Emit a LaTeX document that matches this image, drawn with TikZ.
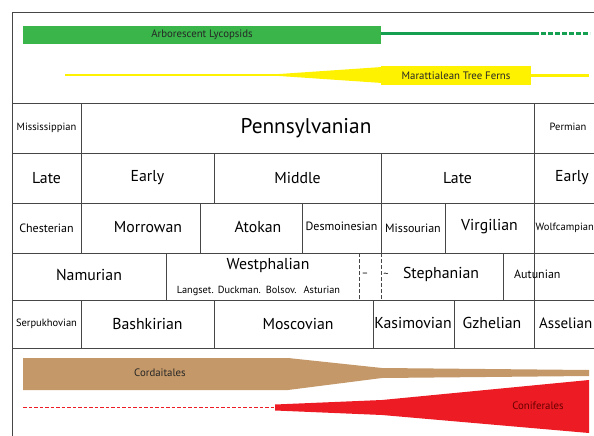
\documentclass[tikz,border=0pt]{standalone}
\usepackage{fontspec}
\setmainfont{PT Sans}
\definecolor{lgreen}{RGB}{57,181,74}
\definecolor{dgreen}{RGB}{20,160,80}
\definecolor{fyellow}{RGB}{255,242,0}
\definecolor{fbrown}{RGB}{196,152,104}
\definecolor{conired}{RGB}{237,28,36}
\definecolor{gline}{RGB}{70,70,70}
\begin{document}
\begin{tikzpicture}[x=1pt,y=-1pt,
  grid/.style={draw=gline,line width=0.8pt},
  big/.style={font=\fontsize{21.3}{23}\selectfont,inner sep=0pt},
  med/.style={font=\fontsize{15.8}{18}\selectfont,inner sep=0pt},
  sml/.style={font=\fontsize{12}{14}\selectfont,inner sep=0pt},
  ssml/.style={font=\fontsize{10.5}{12}\selectfont,inner sep=0pt},
  tiny/.style={font=\fontsize{10.3}{12}\selectfont,inner sep=0pt},
  barlab/.style={font=\fontsize{10.8}{12}\selectfont,text=black!85,inner sep=0pt}]
\useasboundingbox (0,0) rectangle (594,436);
\clip (0,0) rectangle (594,436);
\fill[white] (0,0) rectangle (594,436);
% frame
\draw[grid] (594,12) -- (12,12) -- (12,436);
\foreach \y in {103,153,203,253,300,348} \draw[grid] (12,\y) -- (594,\y);
\draw[grid] (81,103) -- (81,253);
\draw[grid] (81,300) -- (81,348);
\draw[grid] (534,103) -- (534,348);
\draw[grid] (214,153) -- (214,203);
\draw[grid] (381,153) -- (381,253);
\draw[grid] (200,203) -- (200,253);
\draw[grid] (302,203) -- (302,253);
\draw[grid] (445,203) -- (445,253);
\draw[grid] (166,253) -- (166,300);
\draw[grid] (503,253) -- (503,300);
\draw[grid,dash pattern=on 4pt off 2pt] (359,253) -- (359,300);
\draw[grid,dash pattern=on 4pt off 2pt] (381,253) -- (381,300);
\draw[grid] (214,300) -- (214,348);
\draw[grid] (373,300) -- (373,348);
\draw[grid] (454,300) -- (454,348);
% row 1
\node[ssml] (miss) at (46.5,128) {Mississippian};
\node[big] (penn) at (306,128) {Pennsylvanian};
\node[ssml] (perm) at (568,127) {Permian};
% row 2
\node[med] (late1) at (46.5,178) {Late};
\node[med] (early1) at (147.5,178) {Early};
\node[med] (middle) at (297.5,178) {Middle};
\node[med] (late2) at (457.5,178) {Late};
\node[med,anchor=west] (early2) at (555,178) {Early};
% row 3
\node[sml] (chest) at (46.5,228) {Chesterian};
\node[med] (morr) at (148,227) {Morrowan};
\node[med] (atok) at (258,227) {Atokan};
\node[sml] (desm) at (341.5,226) {Desmoinesian};
\node[sml] (miss2) at (413,228) {Missourian};
\node[med] (virg) at (489.5,227) {Virgilian};
\node[ssml,anchor=west] (wolf) at (535.5,228) {Wolfcampian};
% row 4
\node[med] (namu) at (89,275) {Namurian};
\node[med] (west) at (268,265) {Westphalian};
\node[tiny] (lang) at (258.5,291) {Langset.\hspace{4pt}Duckman.\hspace{5pt}Bolsov.\hspace{7pt}Asturian};
\node[tiny] (dash) at (365,275) {–};
\node[tiny] (tilde) at (386,275) {\char`\~};
\node[med] (steph) at (441,274) {Stephanian};
\node[sml,anchor=west] (autu) at (514,274) {Autunian};
% row 5
\node[ssml] (serp) at (46.5,324) {Serpukhovian};
\node[med] (bash) at (147.5,324) {Bashkirian};
\node[med] (mosc) at (298,324) {Moscovian};
\node[med] (kasi) at (413,323) {Kasimovian};
\node[med] (gzhe) at (492,323) {Gzhelian};
\node[med,anchor=west,font=\fontsize{15}{18}\selectfont] (asse) at (539,323) {Asselian};
% Lycopsids
\node[fill=lgreen,minimum width=358pt,minimum height=18pt,inner sep=0pt,barlab] (lyco) at (202,35) {Arborescent Lycopsids};
\coordinate (lycoA) at (534,34);
\coordinate (lycoB) at (590,34);
\draw[draw=dgreen,line width=3pt] (lyco.east |- lycoA) -- (lycoA);
\draw[draw=dgreen,line width=3pt,dash pattern=on 5pt off 2pt] (lycoA) -- (lycoB);
% Tree ferns
\coordinate (fernA) at (65,75);
\coordinate (fernB) at (276,75);
\draw[draw=fyellow,line width=1.2pt] (fernA) -- (fernB);
\fill[fill=fyellow] (275,74.3) -- (382,67) -- (382,83) -- (275,75.7) -- cycle;
\node[fill=fyellow,minimum width=150pt,minimum height=19pt,inner sep=0pt,barlab] (fern) at (456,75.5) {Marattialean Tree Ferns};
\coordinate (fernC) at (589,75.5);
\draw[draw=fyellow,line width=3pt] (fern.east) -- (fernC);
% Cordaitales
\fill[fill=fbrown] (23,358) -- (288,358) -- (382,368) -- (589,370) -- (589,376) -- (382,378) -- (288,390) -- (23,390) -- cycle;
\node[barlab] (cord) at (160,373) {Cordaitales};
% Coniferales
\coordinate (conA) at (23,407.5);
\coordinate (conB) at (276,407.5);
\draw[color=conired,line width=1.4pt,dash pattern=on 3.5pt off 2pt] (conA) -- (conB);
\fill[fill=conired] (275,404.5) -- (382,400) -- (589,380) -- (589,433) -- (382,415) -- (275,410.5) -- cycle;
\node[barlab,text=red!40!black] (coni) at (538,406) {Coniferales};
\end{tikzpicture}
\end{document}
